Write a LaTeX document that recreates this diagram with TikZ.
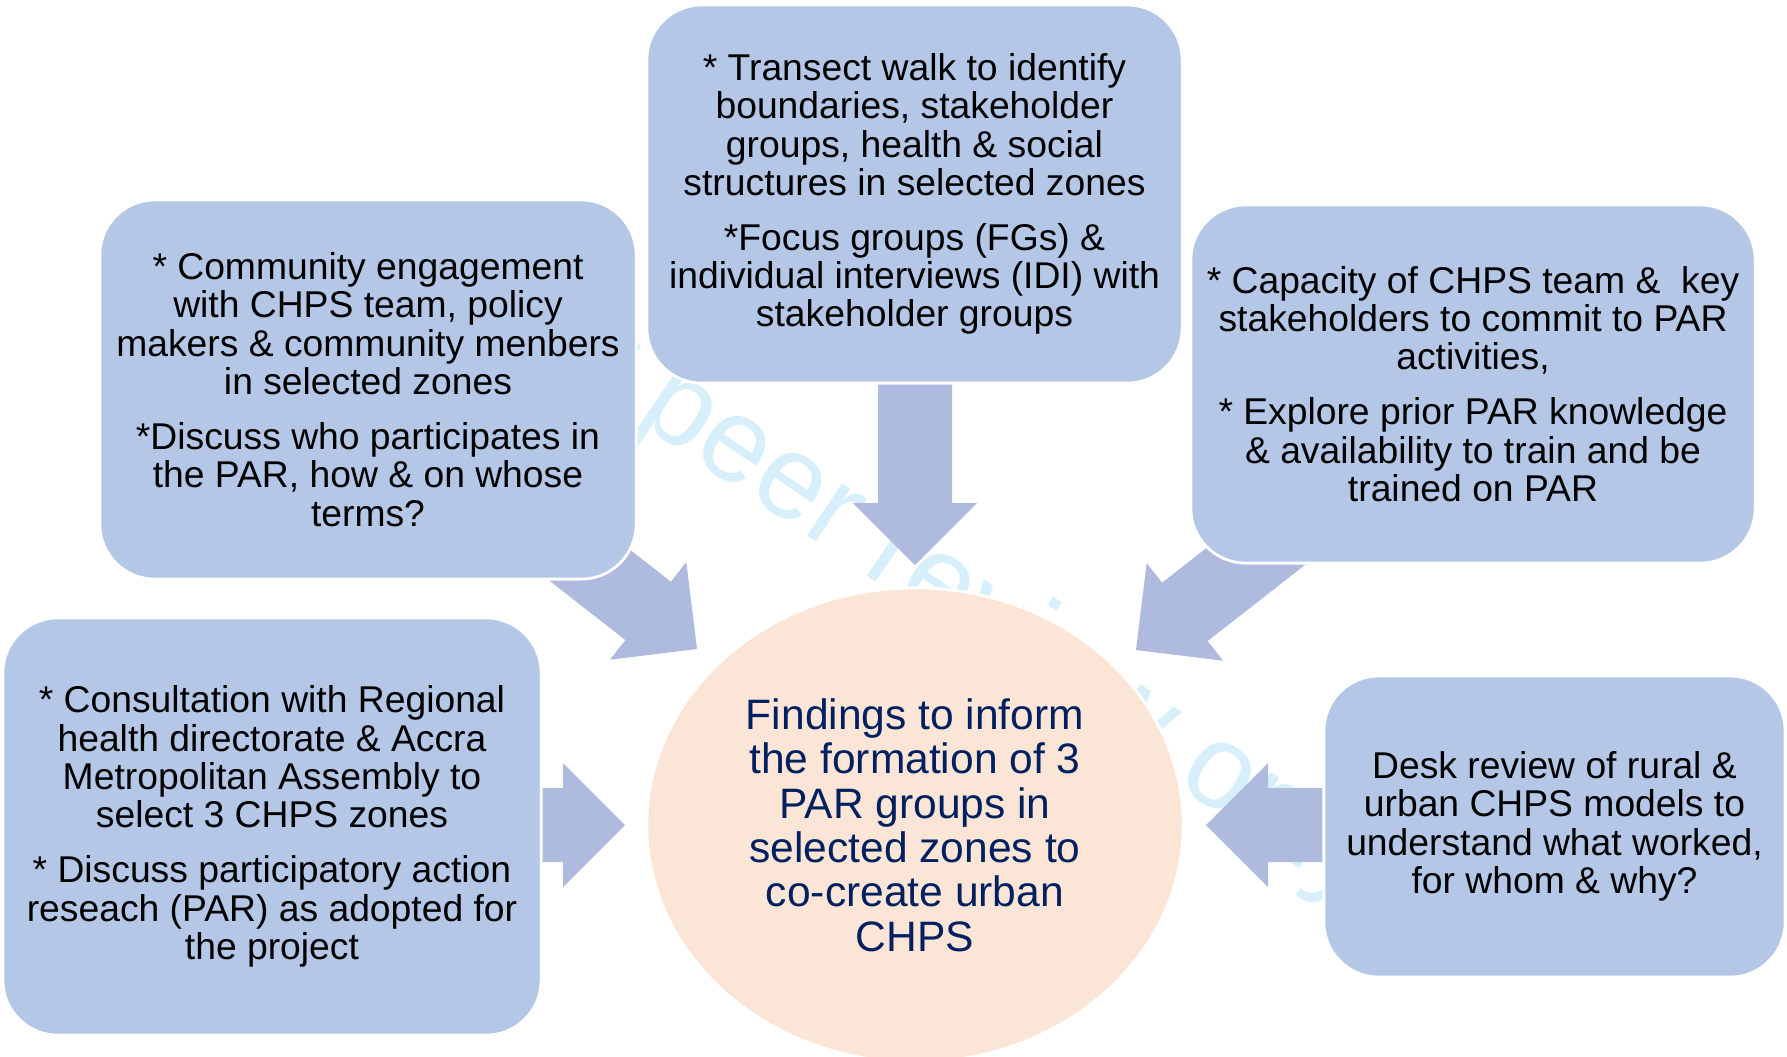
\documentclass[tikz,border=0pt]{standalone}
\usepackage{fontspec}
\setmainfont{Liberation Sans}
\usetikzlibrary{shapes.geometric}
\definecolor{boxblue}{RGB}{180,199,231}
\definecolor{arwblue}{RGB}{174,186,222}
\definecolor{peach}{RGB}{251,229,214}
\definecolor{navy}{RGB}{0,32,96}
\definecolor{wmcyan}{RGB}{214,239,251}
\begin{document}
\begin{tikzpicture}[x=0.01cm,y=-0.01cm,line join=round,
  box/.style={draw=white,line width=0.8pt,fill=boxblue,rounded corners=0.55cm,inner sep=0pt,align=center,font=\fontsize{10.6}{10.9}\selectfont},
  arw/.style={fill=arwblue}]
\useasboundingbox (0,0) rectangle (1787,1056);
\node[rotate=-34,text=wmcyan,font=\fontsize{34}{34}\selectfont] (wm) at (925,578) {For peer review only};
\node[ellipse,draw=white,line width=0.8pt,fill=peach,minimum width=5.36cm,minimum height=4.74cm,inner sep=0pt,align=center,text=navy,font=\fontsize{12.1}{12.6}\selectfont] (mid) at (915,825)
  {Findings to inform\\ the formation of 3\\ PAR groups in\\ selected zones to\\ co-create urban\\ CHPS};
% block arrows: tip offset from the centre, direction, length
\foreach \dx/\dy/\a/\l in {0/-260/-90/200,-218/-176/-38/200,221/-175/-142/200,-290/0/0/100,291/0/180/140}
  \fill[arw,shift={(mid.center)},shift={(\dx,\dy)},rotate=\a] (0,0)--(-62,-62)--(-62,-37)--(-\l,-37)--(-\l,37)--(-62,37)--(-62,62)--cycle;
\node[box,minimum width=5.35cm,minimum height=3.78cm] (walk) at (914.5,194)
  {* Transect walk to identify\\ boundaries, stakeholder\\ groups, health \& social\\ structures in selected zones\\[4.7pt]
   *Focus groups (FGs) \&\\ individual interviews (IDI) with\\ stakeholder groups};
\node[box,minimum width=5.36cm,minimum height=3.79cm] (eng) at (368,389.5)
  {* Community engagement\\ with CHPS team, policy\\ makers \& community menbers\\ in selected zones\\[4.7pt]
   *Discuss who participates in\\ the PAR, how \& on whose\\ terms?};
\node[box,minimum width=5.64cm,minimum height=3.58cm] (cap) at (1473,384)
  {* Capacity of CHPS team \& \ key\\ stakeholders to commit to PAR\\ activities,\\[4.7pt]
   * Explore prior PAR knowledge\\ \& availability to train and be\\ trained on PAR};
\node[box,minimum width=5.38cm,minimum height=4.17cm] (cons) at (272,826.5)
  {* Consultation with Regional\\ health directorate \& Accra\\ Metropolitan Assembly to\\ select 3 CHPS zones\\[4.7pt]
   * Discuss participatory action\\ reseach (PAR) as adopted for\\ the project};
\node[box,minimum width=4.61cm,minimum height=3.01cm] (desk) at (1554.5,826.5)
  {Desk review of rural \&\\ urban CHPS models to\\ understand what worked,\\ for whom \& why?};
\end{tikzpicture}
\end{document}
